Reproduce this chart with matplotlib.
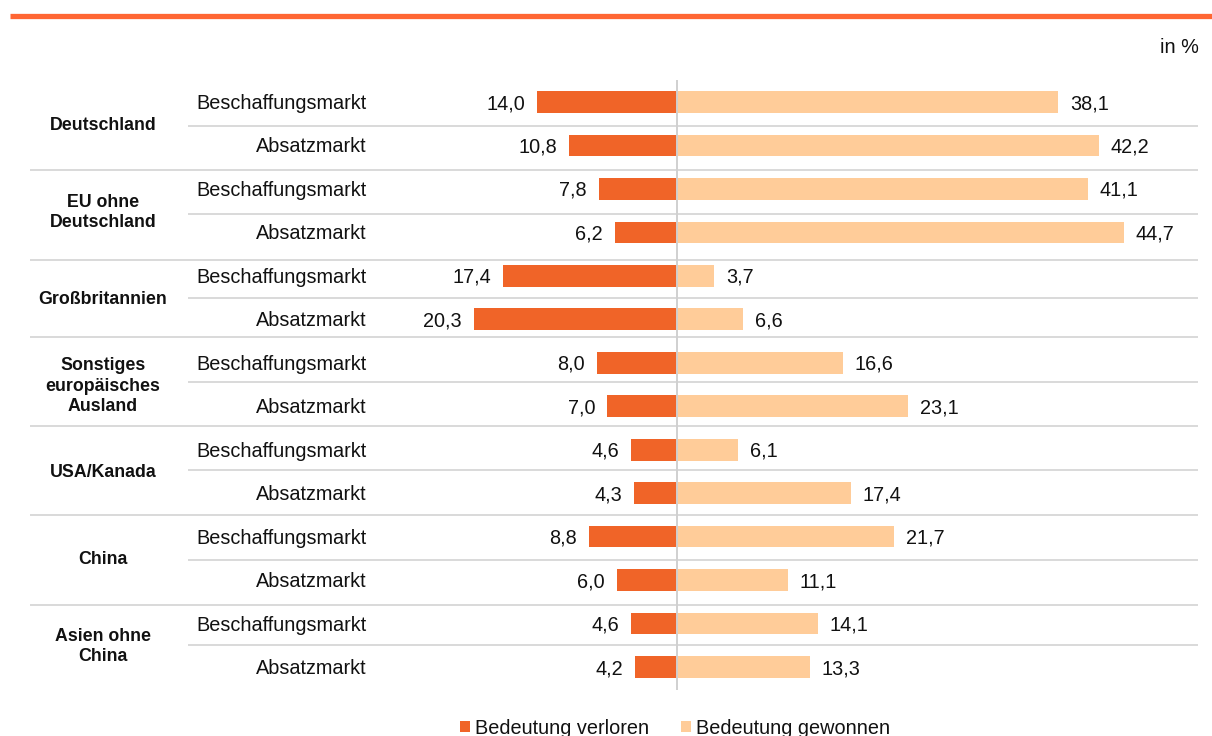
import matplotlib
matplotlib.use("Agg")
import matplotlib.pyplot as plt
from matplotlib.lines import Line2D

plt.rcParams['font.family'] = ['Liberation Sans', 'DejaVu Sans']

# ---- data ----
groups = ["Deutschland", "EU ohne\nDeutschland", "Großbritannien",
          "Sonstiges\neuropäisches\nAusland", "USA/Kanada", "China",
          "Asien ohne\nChina"]
markets = ["Beschaffungsmarkt", "Absatzmarkt"]
lost = [14.0, 10.8, 7.8, 6.2, 17.4, 20.3, 8.0, 7.0, 4.6, 4.3, 8.8, 6.0, 4.6, 4.2]
gained = [38.1, 42.2, 41.1, 44.7, 3.7, 6.6, 16.6, 23.1, 6.1, 17.4, 21.7, 11.1, 14.1, 13.3]
series_names = ["Bedeutung verloren", "Bedeutung gewonnen"]
unit_label = "in %"

# ---- style ----
C_LOST = "#F06428"
C_GAIN = "#FFCC99"
C_TOP = "#FF6633"
C_GRID = "#D9D9D9"
FS = 14.3
FS_GROUP = 12.8
DY = -1.1  # small downward text nudge, points

W, H = 1212, 736
fig = plt.figure(figsize=(W / 100, H / 100), dpi=100)
ax = fig.add_axes([0, 0, 1, 1])
ax.axis("off")

x0_px, px_per_unit = 677, 10.0
row0_px, row_px = 102, 43.46
ax.set_xlim(-x0_px / px_per_unit, (W - x0_px) / px_per_unit)
ax.set_ylim((H - row0_px) / row_px, -row0_px / row_px)

def py(p):
    return (p - row0_px) / row_px

def px(p):
    return (p - x0_px) / px_per_unit

n = len(lost)
ys = list(range(n))

b1 = ax.barh(ys, [-v for v in lost], height=0.5, color=C_LOST, label=series_names[0], zorder=3)
b2 = ax.barh(ys, gained, height=0.5, color=C_GAIN, label=series_names[1], zorder=3)

def fmt(v):
    return f"{v:.1f}".replace(".", ",")

for y, v in zip(ys, lost):
    ax.annotate(fmt(v), (-v, y), xytext=(-8.6, DY), textcoords="offset points",
                ha="right", va="center", fontsize=FS, color="#111111")
for y, v in zip(ys, gained):
    ax.annotate(fmt(v), (v, y), xytext=(8.6, DY), textcoords="offset points",
                ha="left", va="center", fontsize=FS, color="#111111")

# category labels
for i in range(n):
    ax.annotate(markets[i % 2], (px(367), i), xytext=(0, DY), textcoords="offset points",
                ha="right", va="center", fontsize=FS, color="#111111")

# group labels
for g, name in enumerate(groups):
    ax.annotate(name, (px(103), 2 * g + 0.5), xytext=(0, DY), textcoords="offset points",
                ha="center", va="center", fontsize=FS_GROUP,
                fontweight="bold", color="#111111", linespacing=1.25)

# separator lines (layout, pixel positions)
inner_px = [126, 214, 298, 382, 470, 560, 645]
group_px = [170, 260, 337, 426, 515, 605]
for p in inner_px:
    ax.plot([px(188), px(1198)], [py(p), py(p)], color=C_GRID, lw=1.4, zorder=1,
            solid_capstyle="butt")
for p in group_px:
    ax.plot([px(30), px(1198)], [py(p), py(p)], color=C_GRID, lw=1.4, zorder=1,
            solid_capstyle="butt")

# zero line
ax.plot([0, 0], [py(80), py(690)], color="#D0D0D0", lw=1.4, zorder=4, solid_capstyle="butt")

# top orange rule
fig.add_artist(Line2D([10 / W, 1], [1 - 16 / H, 1 - 16 / H], color=C_TOP, lw=3.8,
                      transform=fig.transFigure, solid_capstyle="butt"))

# unit label
ax.text(px(1199), py(47), unit_label, ha="right", va="center", fontsize=FS, color="#111111")

# legend
leg = fig.legend(handles=[b1, b2], labels=series_names, loc="center",
                 bbox_to_anchor=(675 / W, 1 - 728 / H), ncol=2, frameon=False,
                 fontsize=FS, handlelength=0.5, handleheight=0.5, handletextpad=0.25,
                 columnspacing=1.6, borderpad=0, borderaxespad=0)
for t in leg.get_texts():
    t.set_color("#111111")

fig.savefig("out.png", dpi=100)
